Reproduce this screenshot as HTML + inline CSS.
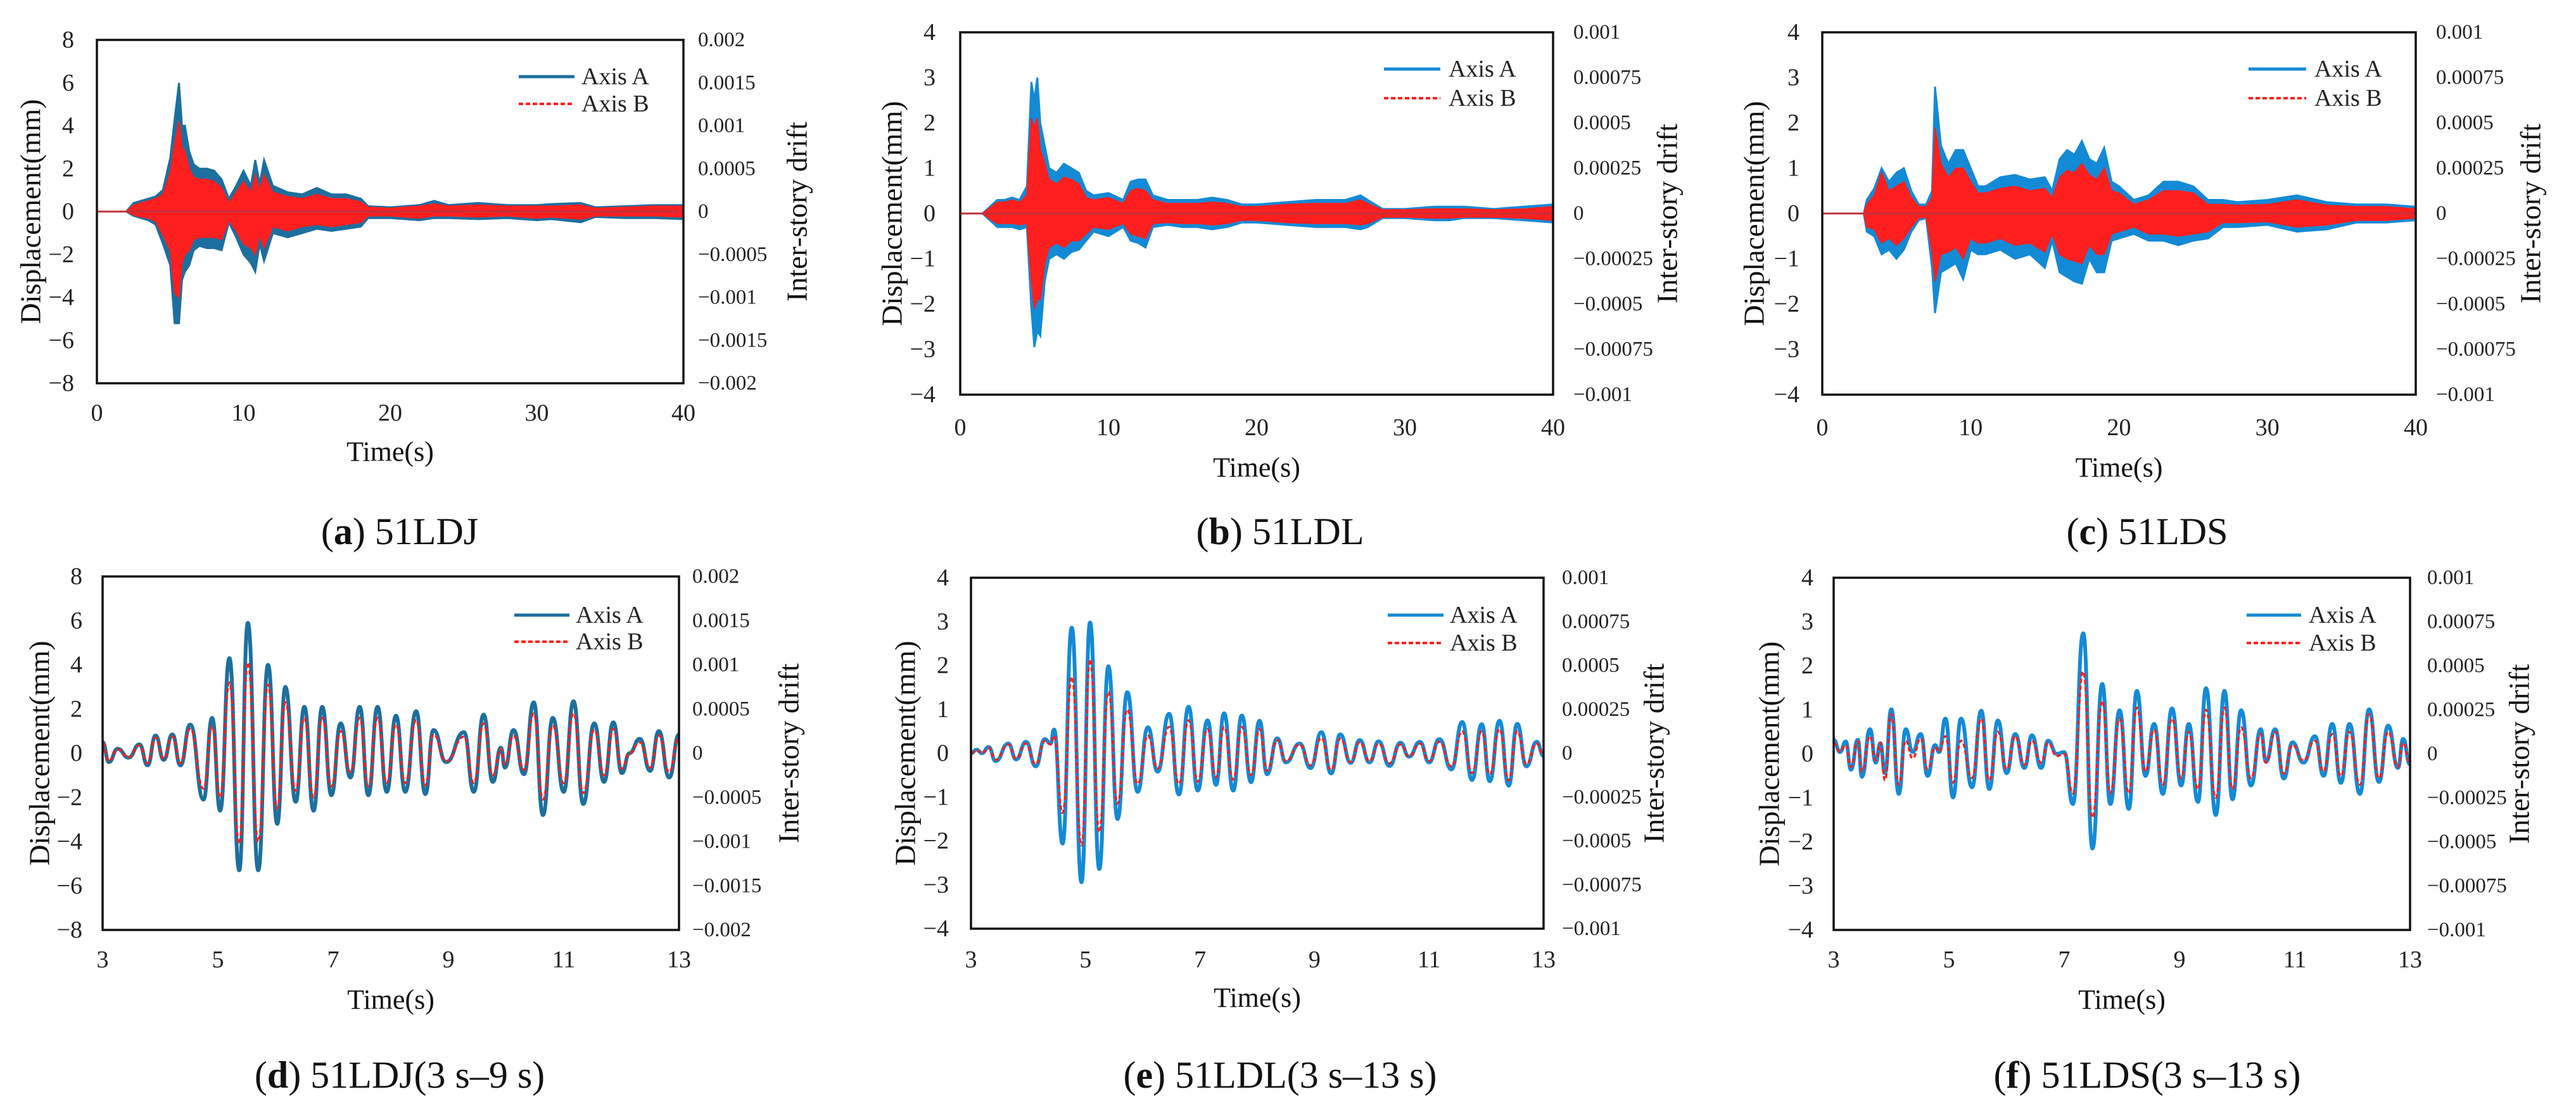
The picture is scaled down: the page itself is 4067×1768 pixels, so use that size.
<!DOCTYPE html>
<html><head><meta charset="utf-8"><style>
html,body{margin:0;padding:0;background:#fff;}
svg{display:block;font-family:"Liberation Serif",serif;}
</style></head><body>
<svg id="fig" width="4067" height="1768" viewBox="0 0 4067 1768" xmlns="http://www.w3.org/2000/svg"></svg>
<script>
// ---------- DATA ----------
const dispTicksBig = [-8,-6,-4,-2,0,2,4,6,8];
const dispTicksSmall = [-4,-3,-2,-1,0,1,2,3,4];
const driftLabelsBig = ["0.002","0.0015","0.001","0.0005","0","\u22120.0005","\u22120.001","\u22120.0015","\u22120.002"];
const driftLabelsSmall = ["0.001","0.00075","0.0005","0.00025","0","\u22120.00025","\u22120.0005","\u22120.00075","\u22120.001"];
const timeTicksFull = [0,10,20,30,40];
const timeTicksZoom = [3,5,7,9,11,13];

// panel a (envelopes)
const aTime = [0,2,2.5,3,3.5,4,4.5,5,5.3,5.6,5.8,6,6.3,6.6,7,7.5,8,8.5,9,9.5,10,10.5,10.8,11.1,11.4,12,13,14,15,16,17,18,18.5,20,22,23,24,26,28,30,31,33,34,36,38,40];
const aUpperA = [0,0,0.4,0.5,0.6,0.7,1.0,2.5,4.3,6.0,4.0,4.0,2.8,2.2,2.0,2.0,1.9,1.5,0.6,1.2,1.9,1.2,2.4,1.3,2.4,1.2,0.9,0.8,1.1,0.8,0.8,0.6,0.25,0.2,0.3,0.5,0.3,0.4,0.3,0.3,0.35,0.4,0.2,0.25,0.3,0.3];
const aLowerA = [0,0,-0.2,-0.3,-0.4,-0.6,-1.5,-2.5,-5.2,-5.2,-3.2,-2.8,-2.5,-1.8,-1.6,-1.7,-1.7,-1.8,-0.5,-1.2,-2.0,-2.4,-2.8,-1.5,-2.3,-1.0,-1.2,-1.0,-0.8,-0.9,-0.8,-0.7,-0.3,-0.3,-0.4,-0.3,-0.3,-0.35,-0.3,-0.4,-0.35,-0.5,-0.25,-0.3,-0.3,-0.35];
const aUpperB = [0,0,0.3,0.4,0.5,0.6,0.8,1.8,3.2,4.2,3.0,2.8,2.0,1.6,1.5,1.5,1.4,1.1,0.4,0.9,1.4,0.9,1.7,1.0,1.7,0.9,0.7,0.6,0.8,0.6,0.6,0.45,0.2,0.15,0.25,0.35,0.25,0.3,0.25,0.25,0.25,0.3,0.15,0.2,0.25,0.25];
const aLowerB = [0,0,-0.15,-0.25,-0.3,-0.45,-1.1,-1.8,-3.8,-4.0,-2.4,-2.0,-1.8,-1.3,-1.2,-1.2,-1.2,-1.3,-0.4,-0.9,-1.5,-1.7,-2.0,-1.1,-1.7,-0.7,-0.9,-0.7,-0.6,-0.7,-0.6,-0.5,-0.2,-0.2,-0.3,-0.2,-0.2,-0.25,-0.2,-0.3,-0.25,-0.35,-0.2,-0.2,-0.2,-0.25];

// panel b
const bTime = [0,1.5,2,2.5,3,3.5,4,4.5,4.8,5.0,5.2,5.4,5.7,6,6.5,7,7.5,8,8.5,9,10,11,11.5,12,12.5,13,14,15,16,17,18,19,20,22,24,26,27,27.5,28.5,30,32,33,34,36,38,40];
const bUpperA = [0,0,0.15,0.3,0.3,0.35,0.3,0.6,2.9,2.5,3.0,2.0,1.5,1.0,0.9,1.1,1.0,0.9,0.5,0.4,0.45,0.3,0.7,0.75,0.75,0.4,0.3,0.3,0.3,0.35,0.3,0.2,0.2,0.25,0.3,0.3,0.4,0.3,0.1,0.1,0.15,0.15,0.15,0.1,0.15,0.2];
const bLowerA = [0,0,-0.15,-0.3,-0.3,-0.3,-0.35,-0.3,-2.1,-2.95,-2.6,-2.7,-1.5,-1.0,-0.9,-1.0,-0.85,-0.8,-0.6,-0.4,-0.5,-0.3,-0.6,-0.65,-0.75,-0.3,-0.25,-0.3,-0.3,-0.35,-0.3,-0.2,-0.2,-0.25,-0.3,-0.3,-0.35,-0.3,-0.1,-0.1,-0.15,-0.15,-0.1,-0.1,-0.15,-0.2];
const bUpperB = [0,0,0.12,0.25,0.25,0.3,0.25,0.4,2.1,1.9,2.1,1.4,1.1,0.75,0.65,0.8,0.75,0.65,0.35,0.3,0.35,0.22,0.5,0.55,0.5,0.3,0.22,0.22,0.22,0.25,0.22,0.15,0.15,0.2,0.22,0.22,0.3,0.22,0.08,0.08,0.1,0.1,0.1,0.08,0.1,0.15];
const bLowerB = [0,0,-0.12,-0.22,-0.22,-0.22,-0.25,-0.22,-1.5,-2.1,-1.9,-1.9,-1.1,-0.75,-0.65,-0.75,-0.6,-0.6,-0.45,-0.3,-0.35,-0.22,-0.45,-0.5,-0.55,-0.22,-0.2,-0.22,-0.22,-0.25,-0.22,-0.15,-0.15,-0.2,-0.22,-0.22,-0.25,-0.22,-0.08,-0.08,-0.1,-0.1,-0.08,-0.08,-0.1,-0.15];

// panel c
const cTime = [0,2.8,3,3.5,4,4.5,5,5.5,6,6.5,7,7.4,7.6,8,8.5,9,9.5,10,10.5,11,12,13,14,15,15.5,16,16.5,17,17.5,18,18.5,19,19.5,20,21,22,23,24,25,26,27,28,30,32,34,36,38,40];
const cUpperA = [0,0,0.3,0.55,1.0,0.7,0.9,1.0,0.5,0.2,0.2,0.5,2.8,1.5,1.1,1.4,1.4,1.0,0.6,0.6,0.8,0.85,0.75,0.8,0.5,1.2,1.4,1.3,1.6,1.2,1.1,1.45,0.7,0.6,0.3,0.4,0.7,0.7,0.6,0.3,0.3,0.25,0.3,0.4,0.25,0.2,0.2,0.15];
const cLowerA = [0,0,-0.4,-0.5,-0.9,-0.8,-1.0,-0.8,-0.4,-0.15,-0.1,-1.2,-2.2,-1.3,-1.2,-1.1,-1.45,-0.8,-0.9,-0.9,-0.8,-1.0,-0.9,-1.2,-0.6,-1.3,-1.4,-1.5,-1.55,-1.0,-1.3,-1.3,-0.6,-0.55,-0.45,-0.6,-0.6,-0.7,-0.6,-0.55,-0.3,-0.3,-0.25,-0.4,-0.35,-0.2,-0.2,-0.15];
const cUpperB = [0,0,0.2,0.4,0.9,0.5,0.6,0.7,0.35,0.15,0.15,0.35,1.9,1.1,0.8,1.0,1.0,0.7,0.45,0.45,0.55,0.6,0.5,0.55,0.35,0.8,0.95,0.9,1.1,0.85,0.75,1.0,0.5,0.45,0.2,0.3,0.5,0.5,0.45,0.2,0.2,0.18,0.2,0.3,0.18,0.15,0.15,0.1];
const cLowerB = [0,0,-0.3,-0.35,-0.65,-0.55,-0.7,-0.55,-0.3,-0.1,-0.08,-0.85,-1.5,-0.9,-0.85,-0.75,-1.0,-0.55,-0.65,-0.65,-0.55,-0.7,-0.65,-0.85,-0.45,-0.9,-1.0,-1.05,-1.1,-0.7,-0.9,-0.9,-0.45,-0.4,-0.3,-0.45,-0.45,-0.5,-0.45,-0.4,-0.2,-0.2,-0.18,-0.3,-0.25,-0.15,-0.15,-0.1];

// panel d (extrema)
const dTime = [3,3.11,3.26,3.45,3.64,3.78,3.92,4.06,4.21,4.35,4.52,4.75,4.9,5.04,5.2,5.37,5.52,5.7,5.87,6.03,6.17,6.35,6.5,6.66,6.81,6.97,7.13,7.3,7.46,7.61,7.77,7.93,8.09,8.25,8.44,8.6,8.74,8.96,9.27,9.44,9.61,9.77,9.91,9.98,10.13,10.31,10.48,10.64,10.81,11.0,11.17,11.34,11.53,11.7,11.86,12.01,12.14,12.32,12.5,12.65,12.83,13];
const dA = [0.5,-0.4,0.2,-0.2,0.4,-0.55,0.8,-0.3,0.85,-0.55,1.3,-2.1,1.6,-2.6,4.3,-5.3,5.9,-5.3,4.0,-3.2,3.0,-2.2,2.1,-2.6,2.1,-1.9,1.35,-1.1,2.1,-1.9,2.1,-1.75,1.7,-1.75,1.9,-1.85,1.05,-0.4,0.95,-1.75,1.75,-1.3,0.25,-0.65,1.05,-0.95,2.3,-2.8,1.6,-1.75,2.35,-2.3,1.35,-1.3,1.4,-0.9,0,0.65,-0.8,1.0,-1.1,0.85];
const dB = [0.45,-0.35,0.18,-0.18,0.35,-0.45,0.7,-0.25,0.75,-0.45,1.1,-1.6,1.2,-2.0,3.2,-4.1,4.1,-4.0,3.1,-2.5,2.3,-1.7,1.6,-2.0,1.6,-1.5,1.0,-0.85,1.6,-1.5,1.6,-1.35,1.3,-1.35,1.5,-1.45,0.85,-0.35,0.75,-1.35,1.35,-1.0,0.2,-0.5,0.8,-0.75,1.8,-2.1,1.25,-1.35,1.8,-1.8,1.05,-1.0,1.1,-0.7,0,0.5,-0.65,0.8,-0.85,0.7];

// panel e
const eTime = [3,3.1,3.19,3.31,3.43,3.65,3.79,3.96,4.13,4.29,4.39,4.45,4.6,4.76,4.93,5.08,5.24,5.4,5.56,5.73,5.91,6.09,6.26,6.46,6.63,6.8,6.96,7.13,7.28,7.42,7.58,7.73,7.89,8.04,8.17,8.35,8.5,8.74,8.93,9.12,9.29,9.45,9.63,9.79,9.96,10.12,10.31,10.5,10.65,10.84,11.0,11.18,11.39,11.58,11.75,11.92,12.06,12.23,12.39,12.54,12.7,12.88,13];
const eA = [0,0.08,0,0.14,-0.18,0.22,-0.14,0.26,-0.3,0.32,0.22,0.54,-2.06,2.86,-2.94,2.98,-2.64,1.98,-1.5,1.39,-0.88,0.59,-0.42,0.9,-0.94,1.06,-0.85,0.75,-0.72,0.91,-0.85,0.86,-0.66,0.74,-0.48,0.34,-0.21,0.22,-0.34,0.48,-0.46,0.43,-0.22,0.3,-0.21,0.27,-0.29,0.24,-0.08,0.26,-0.21,0.32,-0.37,0.71,-0.61,0.66,-0.64,0.74,-0.74,0.67,-0.3,0.26,-0.06];
const eB = [0,0.07,0,0.12,-0.15,0.2,-0.12,0.22,-0.25,0.28,0.2,0.4,-1.36,1.74,-2.1,2.14,-1.8,1.4,-1.15,1.0,-0.7,0.4,-0.35,0.6,-0.7,0.75,-0.65,0.55,-0.55,0.6,-0.6,0.6,-0.5,0.55,-0.4,0.3,-0.18,0.2,-0.28,0.35,-0.38,0.33,-0.2,0.25,-0.18,0.22,-0.23,0.2,-0.07,0.22,-0.18,0.26,-0.3,0.5,-0.45,0.5,-0.48,0.55,-0.62,0.5,-0.25,0.22,-0.05];

// panel f
const fTime = [3,3.11,3.21,3.3,3.42,3.49,3.63,3.73,3.81,3.89,4.0,4.13,4.25,4.37,4.51,4.63,4.76,4.83,4.94,5.07,5.21,5.4,5.56,5.7,5.85,6.0,6.15,6.31,6.44,6.6,6.72,6.87,7.0,7.15,7.33,7.49,7.66,7.8,7.96,8.12,8.26,8.41,8.56,8.71,8.87,9.03,9.16,9.32,9.46,9.63,9.78,9.92,10.07,10.24,10.41,10.5,10.66,10.81,10.96,11.15,11.35,11.5,11.65,11.8,11.95,12.13,12.29,12.46,12.62,12.79,12.88,13];
const fA = [0.32,0.04,0.28,-0.36,0.32,-0.52,0.56,-0.2,0.24,-0.44,1.01,-0.91,0.56,0.04,0.45,-0.5,0.2,0.04,0.8,-0.99,0.8,-0.76,0.98,-0.8,0.76,-0.44,0.45,-0.32,0.42,-0.32,0.3,0,0.04,-1.14,2.74,-2.15,1.59,-1.14,0.99,-1.25,1.43,-0.5,0.68,-0.91,1.03,-0.72,0.68,-1.09,1.49,-1.39,1.43,-1.03,0.99,-0.72,0.56,-0.18,0.56,-0.56,0.26,-0.2,0.4,-0.5,0.68,-0.66,0.68,-0.91,1.01,-0.64,0.64,-0.32,0.34,-0.24];
const fB = [0.25,0.05,0.2,-0.3,0.28,-0.4,0.4,-0.15,0.25,-0.6,0.9,-0.7,0.3,-0.1,0.35,-0.35,0.15,0.05,0.4,-0.65,0.3,-0.55,0.8,-0.6,0.5,-0.35,0.4,-0.25,0.3,-0.2,0.25,-0.05,0,-0.9,1.87,-1.45,1.2,-0.9,0.8,-0.9,1.05,-0.4,0.55,-0.7,0.8,-0.55,0.5,-0.8,1.0,-1.0,1.05,-0.8,0.6,-0.55,0.45,-0.2,0.5,-0.45,0.2,-0.15,0.3,-0.4,0.45,-0.5,0.5,-0.7,0.9,-0.55,0.5,-0.3,0.25,-0.2];

// ---------- LAYOUT ----------
const NS = "http://www.w3.org/2000/svg";
const svg = document.getElementById('fig');
function mk(tag, attrs, parent){ const e=document.createElementNS(NS,tag); for(const k in attrs) e.setAttribute(k,attrs[k]); (parent||svg).appendChild(e); return e; }

const layouts = [
 {id:'a', L:153,R:1079,T:63,B:605, ymax:8, yT:dispTicksBig, rL:driftLabelsBig, xT:timeTicksFull, x0:0,x1:40, xTickY:652, timeY:713, capY:839, capX:631, ltx:117, ytx:48, rtx:1102, rttx:1258, lg:[819,907,918,121,164], blue:'#1c6f9e', cap:['a',' 51LDJ'], kind:'env', t:aTime, ua:aUpperA, la:aLowerA, ub:aUpperB, lb:aLowerB},
 {id:'b', L:1516,R:2452,T:51,B:623, ymax:4, yT:dispTicksSmall, rL:driftLabelsSmall, xT:timeTicksFull, x0:0,x1:40, xTickY:675, timeY:738, capY:839, capX:2021, ltx:1477, ytx:1408, rtx:2484, rttx:2632, lg:[2185,2274,2287,109,155], blue:'#138ad6', cap:['b',' 51LDL'], kind:'env', t:bTime, ua:bUpperA, la:bLowerA, ub:bUpperB, lb:bLowerB},
 {id:'c', L:2877,R:3814,T:51,B:623, ymax:4, yT:dispTicksSmall, rL:driftLabelsSmall, xT:timeTicksFull, x0:0,x1:40, xTickY:675, timeY:738, capY:839, capX:3390, ltx:2841, ytx:2769, rtx:3846, rttx:3995, lg:[3550,3641,3654,109,155], blue:'#138ad6', cap:['c',' 51LDS'], kind:'env', t:cTime, ua:cUpperA, la:cLowerA, ub:cUpperB, lb:cLowerB},
 {id:'d', L:162,R:1072,T:910,B:1468, ymax:8, yT:dispTicksBig, rL:driftLabelsBig, xT:timeTicksZoom, x0:3,x1:13, xTickY:1515, timeY:1578, capY:1697, capX:631, ltx:130, ytx:62, rtx:1093, rttx:1245, lg:[812,899,909,971,1013], blue:'#1c6f9e', cap:['d',' 51LDJ(3 s\u20139 s)'], kind:'curve', t:dTime, a:dA, b:dB},
 {id:'e', L:1533,R:2437,T:912,B:1466, ymax:4, yT:dispTicksSmall, rL:driftLabelsSmall, xT:timeTicksZoom, x0:3,x1:13, xTickY:1515, timeY:1575, capY:1697, capX:2021, ltx:1498, ytx:1429, rtx:2466, rttx:2611, lg:[2191,2279,2289,971,1015], blue:'#138ad6', cap:['e',' 51LDL(3 s\u201313 s)'], kind:'curve', t:eTime, a:eA, b:eB},
 {id:'f', L:2895,R:3805,T:912,B:1468, ymax:4, yT:dispTicksSmall, rL:driftLabelsSmall, xT:timeTicksZoom, x0:3,x1:13, xTickY:1515, timeY:1578, capY:1697, capX:3390, ltx:2863, ytx:2793, rtx:3832, rttx:3977, lg:[3547,3633,3645,971,1015], blue:'#138ad6', cap:['f',' 51LDS(3 s\u201313 s)'], kind:'curve', t:fTime, a:fA, b:fB}
];
const RED = '#ff1f1f';

layouts.forEach(p=>{
  const g = mk('g',{});
  
  
  const xs = v => p.L + (v-p.x0)/(p.x1-p.x0)*(p.R-p.L);
  const ys = v => p.B - (v+p.ymax)/(2*p.ymax)*(p.B-p.T);

  const cp = mk('clipPath',{id:'clip-'+p.id},g);
  mk('rect',{x:p.L,y:p.T,width:p.R-p.L,height:p.B-p.T},cp);
  const plot = mk('g',{'clip-path':'url(#clip-'+p.id+')'},g);
  
  

  if(p.kind==='env'){
    const poly=(ua,la)=>{ let pts=[]; for(let i=0;i<p.t.length;i++) pts.push(xs(p.t[i]).toFixed(1)+','+ys(ua[i]).toFixed(1)); for(let i=p.t.length-1;i>=0;i--) pts.push(xs(p.t[i]).toFixed(1)+','+ys(la[i]).toFixed(1)); return pts.join(' '); };
    const ea = mk('polygon',{points:poly(p.ua,p.la),fill:p.blue,stroke:p.blue,'stroke-width':3},plot);
    
    
    const eb = mk('polygon',{points:poly(p.ub,p.lb),fill:RED,stroke:RED,'stroke-width':2},plot);
    
    
    const zl = mk('line',{x1:p.L,x2:p.R,y1:ys(0),y2:ys(0),stroke:'#c0303a','stroke-width':3},plot);
    
    
  } else {
    const path=(vals)=>{ let d='M'+xs(p.t[0]).toFixed(1)+','+ys(vals[0]).toFixed(1);
      for(let i=1;i<p.t.length;i++){ const x0=xs(p.t[i-1]),x1=xs(p.t[i]),y0=ys(vals[i-1]),y1=ys(vals[i]),h=(x1-x0)/2;
        d+=' C'+(x0+h).toFixed(1)+','+y0.toFixed(1)+' '+(x1-h).toFixed(1)+','+y1.toFixed(1)+' '+x1.toFixed(1)+','+y1.toFixed(1);} return d; };
    const la = mk('path',{d:path(p.a),fill:'none',stroke:p.blue,'stroke-width':6,'stroke-linejoin':'round'},plot);
    
    
    const lb = mk('path',{d:path(p.b),fill:'none',stroke:RED,'stroke-width':3.5,'stroke-dasharray':'7,4'},plot);
    
    
  }

  const fr = mk('rect',{x:p.L,y:p.T,width:p.R-p.L,height:p.B-p.T,fill:'none',stroke:'#111','stroke-width':3.5},g);
  
  

  p.yT.forEach((v)=>{
    const t = mk('text',{x:p.ltx,y:ys(v),'text-anchor':'end','dominant-baseline':'central','font-size':38,fill:'#222'},g);
    t.textContent = v<0 ? '\u2212'+Math.abs(v) : String(v);
    
    
  });
  p.rL.forEach((lab,i)=>{
    const yy = p.T + i*(p.B-p.T)/(p.rL.length-1);
    const t = mk('text',{x:p.rtx,y:yy,'text-anchor':'start','dominant-baseline':'central','font-size':33,fill:'#222'},g);
    t.textContent = lab;
    
    
  });
  p.xT.forEach(v=>{
    const t = mk('text',{x:xs(v),y:p.xTickY,'text-anchor':'middle','dominant-baseline':'central','font-size':38,fill:'#222'},g);
    t.textContent = String(v);
    
    
  });
  const xt = mk('text',{x:(p.L+p.R)/2,y:p.timeY,'text-anchor':'middle','dominant-baseline':'central','font-size':44,fill:'#111'},g);
  xt.textContent='Time(s)';
  
  
  const cy=(p.T+p.B)/2;
  const yt = mk('text',{x:p.ytx,y:cy,'text-anchor':'middle','dominant-baseline':'central','font-size':46,fill:'#111',transform:'rotate(-90 '+p.ytx+' '+cy+')'},g);
  yt.textContent='Displacement(mm)';
  
  
  const y2 = mk('text',{x:p.rttx,y:cy,'text-anchor':'middle','dominant-baseline':'central','font-size':46,fill:'#111',transform:'rotate(-90 '+p.rttx+' '+cy+')'},g);
  y2.textContent='Inter-story drift';
  
  

  const lgG = mk('g',{},g);
  
  
  const [lx0,lx1,ltx,lyA,lyB]=p.lg;
  const l1 = mk('line',{x1:lx0,x2:lx1,y1:lyA,y2:lyA,stroke:p.blue,'stroke-width':5},lgG);
  
  
  const t1 = mk('text',{x:ltx,y:lyA,'dominant-baseline':'central','font-size':38,fill:'#222'},lgG);
  t1.textContent='Axis A';
  
  
  const l2 = mk('line',{x1:lx0,x2:lx1,y1:lyB,y2:lyB,stroke:RED,'stroke-width':4,'stroke-dasharray':'7,4'},lgG);
  
  
  const t2 = mk('text',{x:ltx,y:lyB,'dominant-baseline':'central','font-size':38,fill:'#222'},lgG);
  t2.textContent='Axis B';
  
  

  const cap = mk('text',{x:p.capX,y:p.capY,'text-anchor':'middle','dominant-baseline':'central','font-size':60,fill:'#111'},g);
  
  
  const s1=mk('tspan',{},cap); s1.textContent='(';
  const s2=mk('tspan',{'font-weight':'bold'},cap); s2.textContent=p.cap[0];
  const s3=mk('tspan',{},cap); s3.textContent=')'+p.cap[1];
});
</script>
</body></html>
